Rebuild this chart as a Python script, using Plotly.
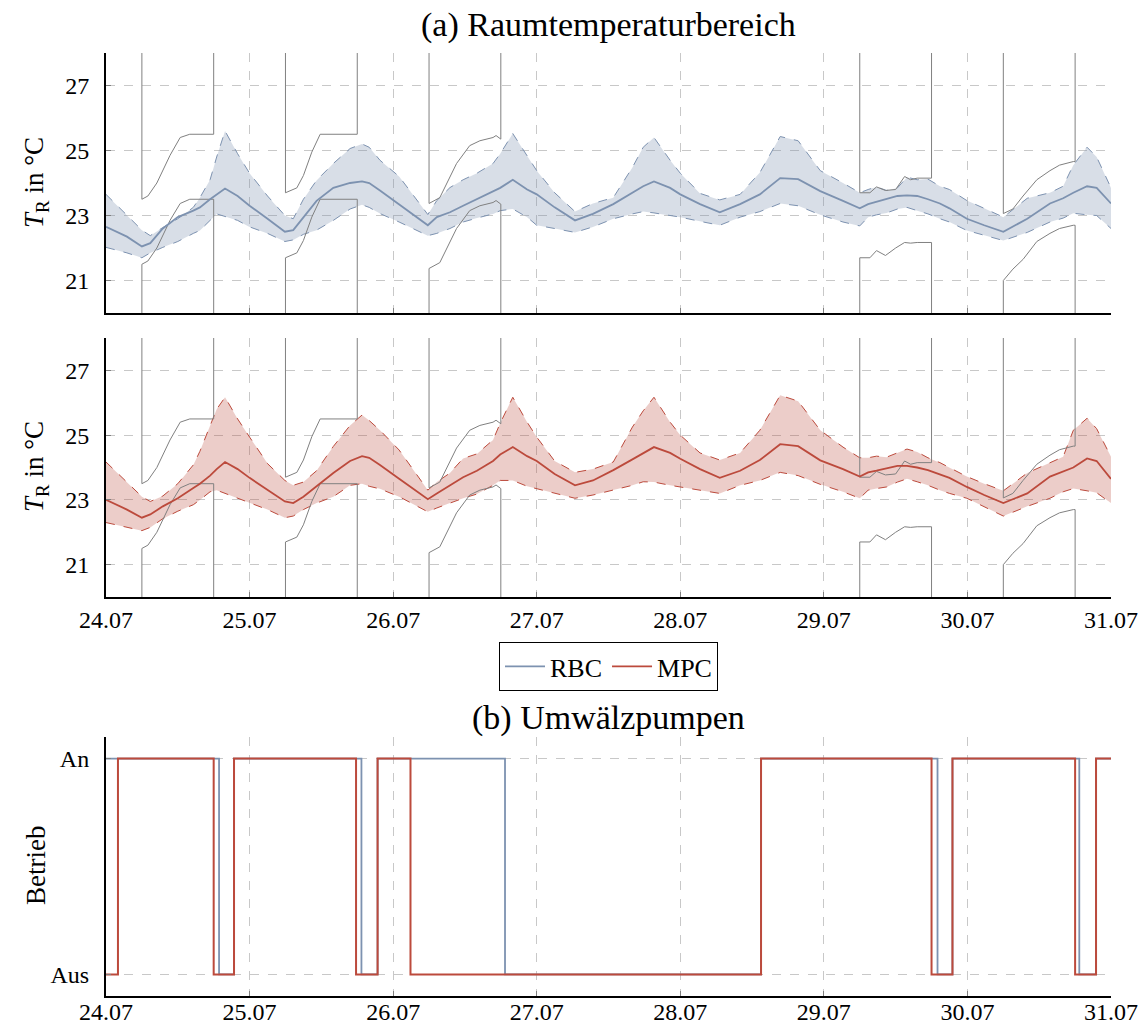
import plotly.graph_objects as go

# ---------------- data (time in hours since 24.07 00:00) ----------------
t = [0, 3.5, 6, 7.4, 9.5, 12, 14.6, 15.7, 17.4, 18.5, 19.9, 22, 24, 27, 29.9, 31.3, 33, 35.2, 38, 40.8,
     42.8, 44, 45.8, 49, 53.8, 55.3, 57.5, 59.7, 62, 64.7, 65.9, 68, 70.4, 72, 75, 78.4, 81.4, 84.8, 88,
     89.8, 91.6, 94.3, 96, 99.3, 102.6, 106, 109.3, 112.7, 115.7, 119.4, 123.2, 126, 127.4, 128.8, 130.5,
     132.3, 133.9, 135.6, 137.4, 139.4, 141, 143.9, 146.8, 150, 154, 157.8, 160, 161.7, 164, 165.6, 168]

rbc_mean = [22.65, 22.35, 22.05, 22.15, 22.6, 22.95, 23.15, 23.25, 23.5, 23.65, 23.83, 23.6, 23.3, 22.9, 22.5,
            22.55, 22.95, 23.45, 23.85, 24.0, 24.05, 24.0, 23.77, 23.35, 22.7, 22.95, 23.1, 23.3, 23.5, 23.75,
            23.85, 24.1, 23.8, 23.65, 23.25, 22.85, 23.05, 23.35, 23.7, 23.9, 24.05, 23.85, 23.65, 23.35, 23.1,
            23.35, 23.65, 24.15, 24.12, 23.75, 23.45, 23.22, 23.35, 23.42, 23.5, 23.6, 23.62, 23.6, 23.5, 23.37,
            23.22, 22.9, 22.7, 22.5, 22.9, 23.37, 23.53, 23.7, 23.9, 23.85, 23.37]
rbc_upper = [23.65, 23.0, 22.55, 22.38, 22.63, 22.9, 23.25, 23.55, 24.1, 24.8, 25.6, 24.9, 24.3, 23.6, 23.0,
             22.9, 23.5, 24.08, 24.6, 25.06, 25.2, 25.1, 24.7, 24.2, 23.03, 23.46, 23.86, 24.1, 24.3, 24.6,
             24.9, 25.52, 24.85, 24.38, 23.7, 23.12, 23.37, 23.55, 24.48, 25.1, 25.4, 24.7, 24.3, 23.68, 23.48,
             23.65, 24.32, 25.43, 25.3, 24.38, 24.0, 23.7, 23.8, 23.88, 23.77, 23.85, 24.18, 24.1, 24.12, 23.9,
             23.8, 23.46, 23.22, 22.95, 23.53, 23.7, 23.9, 24.55, 25.1, 24.8, 23.85]
rbc_lower = [22.02, 21.85, 21.7, 21.85, 22.02, 22.2, 22.45, 22.54, 22.85, 23.05, 22.97, 22.85, 22.65, 22.45, 22.2,
             22.25, 22.42, 22.55, 22.85, 23.2, 23.33, 23.25, 23.06, 22.8, 22.38, 22.45, 22.6, 22.8, 22.92, 23.05,
             23.15, 23.2, 22.95, 22.7, 22.6, 22.48, 22.65, 22.9, 23.05, 23.12, 23.08, 23.0, 22.95, 22.82, 22.7,
             22.95, 23.12, 23.37, 23.3, 23.02, 22.8, 22.68, 22.95, 23.02, 23.08, 23.2, 23.25, 23.15, 23.05, 22.9,
             22.8, 22.54, 22.4, 22.23, 22.48, 22.8, 22.92, 23.07, 23.02, 23.0, 22.6]

mpc_mean = [23.0, 22.7, 22.45, 22.55, 22.8, 23.05, 23.37, 23.5, 23.75, 23.95, 24.17, 23.95, 23.68, 23.3, 22.95,
            22.9, 23.1, 23.42, 23.83, 24.2, 24.35, 24.3, 24.08, 23.65, 23.02, 23.2, 23.45, 23.7, 23.9, 24.2,
            24.4, 24.63, 24.35, 24.2, 23.8, 23.45, 23.6, 23.92, 24.25, 24.45, 24.63, 24.45, 24.27, 23.95, 23.68,
            23.9, 24.23, 24.72, 24.66, 24.22, 23.95, 23.72, 23.85, 23.9, 23.97, 24.05, 24.05, 24.0, 23.92, 23.8,
            23.68, 23.4, 23.15, 22.9, 23.2, 23.72, 23.88, 24.0, 24.28, 24.2, 23.65]
mpc_upper = [24.17, 23.55, 23.1, 22.95, 23.12, 23.5, 24.08, 24.5, 25.3, 25.8, 26.17, 25.5, 24.94, 24.12, 23.6,
             23.45, 23.55, 23.9, 24.65, 25.3, 25.62, 25.45, 25.15, 24.54, 23.3, 23.55, 23.83, 24.28, 24.42, 24.85,
             25.37, 26.17, 25.4, 24.94, 24.2, 23.85, 23.95, 24.17, 25.25, 25.75, 26.17, 25.4, 25.0, 24.45, 24.23,
             24.45, 25.15, 26.23, 26.05, 25.15, 24.63, 24.3, 24.3, 24.35, 24.32, 24.45, 24.57, 24.48, 24.3, 24.15,
             24.0, 23.72, 23.5, 23.28, 23.83, 24.14, 24.33, 25.15, 25.52, 25.2, 24.33]
mpc_lower = [22.3, 22.15, 22.05, 22.15, 22.42, 22.65, 22.85, 23.0, 23.25, 23.3, 23.2, 23.05, 22.9, 22.7, 22.45,
             22.5, 22.7, 22.9, 23.1, 23.45, 23.5, 23.42, 23.34, 23.1, 22.63, 22.75, 22.9, 23.05, 23.18, 23.45,
             23.6, 23.6, 23.42, 23.35, 23.2, 23.05, 23.15, 23.3, 23.45, 23.56, 23.55, 23.45, 23.4, 23.3, 23.2,
             23.45, 23.6, 23.85, 23.75, 23.48, 23.25, 23.05, 23.3, 23.35, 23.4, 23.55, 23.65, 23.56, 23.45, 23.3,
             23.2, 23.05, 22.8, 22.5, 22.8, 23.05, 23.25, 23.35, 23.28, 23.22, 22.9]

# comfort bounds (off-scale values outside occupancy)
bound_t = [0, 6, 6, 7, 8.5, 10.7, 12.4, 14, 18, 18, 30, 30, 31.9, 33, 34.4, 35.8, 42, 42,
           54, 54, 55.8, 58.6, 60.8, 62.5, 64.7, 65.2, 66, 66,
           126, 126, 127.7, 128.8, 130.3, 132, 133.5, 134.5, 135.6, 138, 138,
           150, 150, 151.6, 153.3, 155.6, 157.8, 159.4, 161.7, 162, 162, 168]
bound_upper = [30, 30, 23.5, 23.6, 24.0, 24.85, 25.4, 25.5, 25.5, 30, 30, 23.7, 23.85, 24.23, 24.95, 25.5, 25.5, 30,
               30, 23.37, 23.55, 24.6, 25.15, 25.3, 25.4, 25.46, 25.35, 30,
               30, 23.7, 23.7, 23.88, 23.77, 23.8, 24.2, 24.1, 24.15, 24.15, 30,
               30, 23.06, 23.2, 23.6, 24.1, 24.38, 24.55, 24.66, 24.66, 30, 30]
bound_lower = [15, 15, 21.5, 21.6, 22.0, 22.85, 23.37, 23.5, 23.5, 15, 15, 21.7, 21.85, 22.23, 22.95, 23.5, 23.5, 15,
               15, 21.37, 21.55, 22.6, 23.15, 23.3, 23.4, 23.46, 23.35, 15,
               15, 21.7, 21.7, 21.92, 21.77, 22.0, 22.17, 22.15, 22.17, 22.17, 15,
               15, 21.0, 21.35, 21.65, 22.2, 22.45, 22.6, 22.7, 22.7, 15, 15]

# circulation pumps (1 = An, 0 = Aus), step changes
rbc_pump_t = [0, 18.9, 21.4, 42.7, 45.4, 66.7, 109.5, 139, 141.5, 162.7, 165.5, 168]
rbc_pump = [1, 0, 1, 0, 1, 0, 1, 0, 1, 0, 1, 1]
mpc_pump_t = [0, 2, 18, 21.4, 41.8, 45.4, 50.9, 109.5, 138, 141.5, 162, 165.5, 168]
mpc_pump = [0, 1, 0, 1, 0, 1, 0, 1, 0, 1, 0, 1, 1]

day_ticks = [0, 24, 48, 72, 96, 120, 144, 168]
day_labels = ["24.07", "25.07", "26.07", "27.07", "28.07", "29.07", "30.07", "31.07"]
temp_ticks = [21, 23, 25, 27]

# ---------------- styling ----------------
FONT = "Liberation Serif"
RBC_C = "rgb(125,146,176)"
RBC_F = "rgba(125,146,176,0.30)"
MPC_C = "rgb(188,74,60)"
MPC_F = "rgba(188,74,60,0.28)"
BOUND_C = "rgb(128,128,128)"
GRID_C = "rgb(200,200,200)"

fig = go.Figure()


def add_panel(xa, ya, mean, upper, lower, col, fillc, name, legend):
    fig.add_trace(go.Scatter(x=t, y=lower, xaxis=xa, yaxis=ya, mode="lines",
                             line=dict(color=col, width=1, dash="dash"), showlegend=False, hoverinfo="skip"))
    fig.add_trace(go.Scatter(x=t, y=upper, xaxis=xa, yaxis=ya, mode="lines", fill="tonexty", fillcolor=fillc,
                             line=dict(color=col, width=1, dash="dash"), showlegend=False, hoverinfo="skip"))
    fig.add_trace(go.Scatter(x=bound_t, y=bound_upper, xaxis=xa, yaxis=ya, mode="lines",
                             line=dict(color=BOUND_C, width=1), showlegend=False, hoverinfo="skip"))
    fig.add_trace(go.Scatter(x=bound_t, y=bound_lower, xaxis=xa, yaxis=ya, mode="lines",
                             line=dict(color=BOUND_C, width=1), showlegend=False, hoverinfo="skip"))
    fig.add_trace(go.Scatter(x=t, y=mean, xaxis=xa, yaxis=ya, mode="lines", name=name,
                             line=dict(color=col, width=1.8), showlegend=legend))


add_panel("x", "y", rbc_mean, rbc_upper, rbc_lower, RBC_C, RBC_F, "RBC", True)
add_panel("x2", "y2", mpc_mean, mpc_upper, mpc_lower, MPC_C, MPC_F, "MPC", True)

fig.add_trace(go.Scatter(x=rbc_pump_t, y=rbc_pump, xaxis="x3", yaxis="y3", mode="lines",
                         line=dict(color=RBC_C, width=1.8, shape="hv"), showlegend=False))
fig.add_trace(go.Scatter(x=mpc_pump_t, y=mpc_pump, xaxis="x3", yaxis="y3", mode="lines",
                         line=dict(color=MPC_C, width=2, shape="hv"), showlegend=False))

H = 943.0


def ydom(top_px, bot_px):
    return [(996 - bot_px) / H, (996 - top_px) / H]


xcommon = dict(range=[0, 168], tickvals=day_ticks, ticktext=day_labels, showgrid=True, gridcolor=GRID_C,
               griddash="dash", gridwidth=1, showline=True, linecolor="black", linewidth=2,
               ticks="inside", ticklen=5, tickcolor=BOUND_C, zeroline=False, automargin=False,
               tickfont=dict(family=FONT, size=24, color="black"))
ycommon = dict(showgrid=True, gridcolor=GRID_C, griddash="dash", gridwidth=1, showline=True,
               linecolor="black", linewidth=2, ticks="inside", ticklen=5, tickcolor=BOUND_C, zeroline=False,
               automargin=False, ticklabelstandoff=10, tickfont=dict(family=FONT, size=24, color="black"))

fig.update_layout(
    width=1146, height=1028,
    margin=dict(l=106, r=35, t=53, b=32, autoexpand=False),
    paper_bgcolor="white", plot_bgcolor="white",
    font=dict(family=FONT, size=24, color="black"),
    xaxis=dict(**xcommon, anchor="y", showticklabels=False),
    yaxis=dict(**ycommon, domain=ydom(53, 313), range=[20, 28], tickvals=temp_ticks, anchor="x"),
    xaxis2=dict(**xcommon, anchor="y2"),
    yaxis2=dict(**ycommon, domain=ydom(338, 597), range=[20, 28], tickvals=temp_ticks, anchor="x2"),
    xaxis3=dict(**xcommon, anchor="y3", ticklabelstandoff=-7),
    yaxis3=dict(**ycommon, domain=ydom(737, 996), range=[-0.1, 1.1], tickvals=[0, 1],
                ticktext=["Aus", "An"], anchor="x3"),
    legend=dict(orientation="h", x=0.5, xanchor="center", y=(996 - 666.5) / H, yanchor="middle",
                bordercolor="black", borderwidth=1, bgcolor="white", traceorder="normal",
                font=dict(family=FONT, size=26, color="black"), itemwidth=40, tracegroupgap=0),
    showlegend=True,
)

ann = [
    dict(text="(a) Raumtemperaturbereich", x=0.5, y=(996 - 25) / H, size=34, angle=0),
    dict(text="(b) Umwälzpumpen", x=0.5, y=(996 - 718) / H, size=34, angle=0),
    dict(text="<i>T</i><sub>R</sub> in °C", x=(36 - 106) / 1005.0, y=(996 - 183) / H, size=27, angle=-90),
    dict(text="<i>T</i><sub>R</sub> in °C", x=(36 - 106) / 1005.0, y=(996 - 467) / H, size=27, angle=-90),
    dict(text="Betrieb", x=(36 - 106) / 1005.0, y=(996 - 866) / H, size=27, angle=-90),
]
for a in ann:
    fig.add_annotation(text=a["text"], x=a["x"], y=a["y"], xref="paper", yref="paper",
                       xanchor="center", yanchor="middle", showarrow=False, textangle=a["angle"],
                       font=dict(family=FONT, size=a["size"], color="black"))

fig.write_html("out.html", config={"displayModeBar": False},
               post_script="document.body.style.margin='0px';document.body.style.overflow='hidden';")
